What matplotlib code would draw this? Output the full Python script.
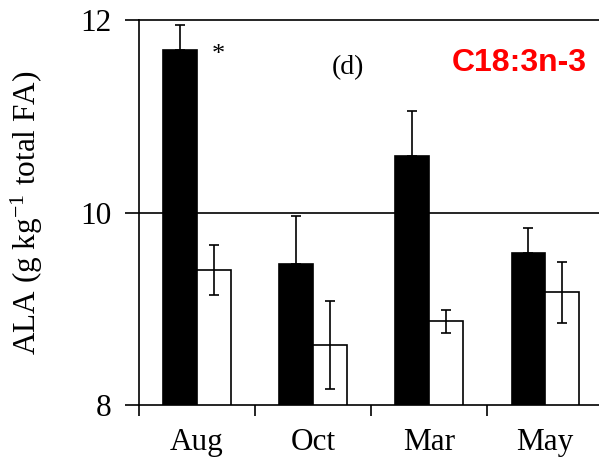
import numpy as np
import matplotlib.pyplot as plt

# ALA content by sampling month, two groups (filled / open bars)
months = ['Aug', 'Oct', 'Mar', 'May']
black_mean = [11.69, 9.46, 10.59, 9.58]
black_err = [0.26, 0.50, 0.47, 0.26]
white_mean = [9.40, 8.62, 8.87, 9.17]
white_err = [0.26, 0.46, 0.12, 0.32]

plt.rcParams['font.family'] = ['Liberation Serif', 'DejaVu Serif']
plt.rcParams['mathtext.fontset'] = 'stix'

fig = plt.figure(figsize=(5.99, 4.58), dpi=100)
ax = fig.add_axes([0.232, 0.116, 0.775, 0.84])

x = np.arange(len(months))
w = 0.29
lw = 1.2

ax.bar(x - w / 2, black_mean, w, color='black', edgecolor='black', linewidth=lw, zorder=2)
ax.bar(x + w / 2, white_mean, w, color='white', edgecolor='black', linewidth=lw, zorder=2)
ax.errorbar(x - w / 2, black_mean, yerr=[np.zeros(4), black_err], fmt='none',
            ecolor='black', elinewidth=lw, capsize=3.6, capthick=lw, zorder=3)
ax.errorbar(x + w / 2, white_mean, yerr=white_err, fmt='none',
            ecolor='black', elinewidth=lw, capsize=3.6, capthick=lw, zorder=3)

ax.axhline(10, color='black', linewidth=lw, zorder=1)

ax.set_ylim(8, 12)
ax.set_xlim(-0.5, 3.5)
ax.set_yticks([8, 10, 12])
ax.set_xticks(x)
ax.set_xticklabels(months)
ax.set_xticks(np.arange(-0.5, 4.0, 1.0), minor=True)
ax.tick_params(axis='x', which='major', length=0, labelsize=22.5, pad=17)
ax.tick_params(axis='x', which='minor', length=8, width=lw, direction='out')
ax.tick_params(axis='y', length=10, width=lw, direction='out', labelsize=22.5, pad=10)
for s in ax.spines.values():
    s.set_linewidth(lw)

ax.set_ylabel(r'ALA (g kg$^{\mathregular{-1}}$ total FA)', fontsize=22.5, labelpad=25)

ax.text(0.13, 11.64, '*', fontsize=19, ha='left', va='center')
ax.text(1.30, 11.51, '(d)', fontsize=20, ha='center', va='center')
ax.text(2.78, 11.55, 'C18:3n-3', fontsize=23, fontweight='bold', color='#ff0000',
        family='Liberation Sans', ha='center', va='center')

fig.savefig('out.png', dpi=100)
